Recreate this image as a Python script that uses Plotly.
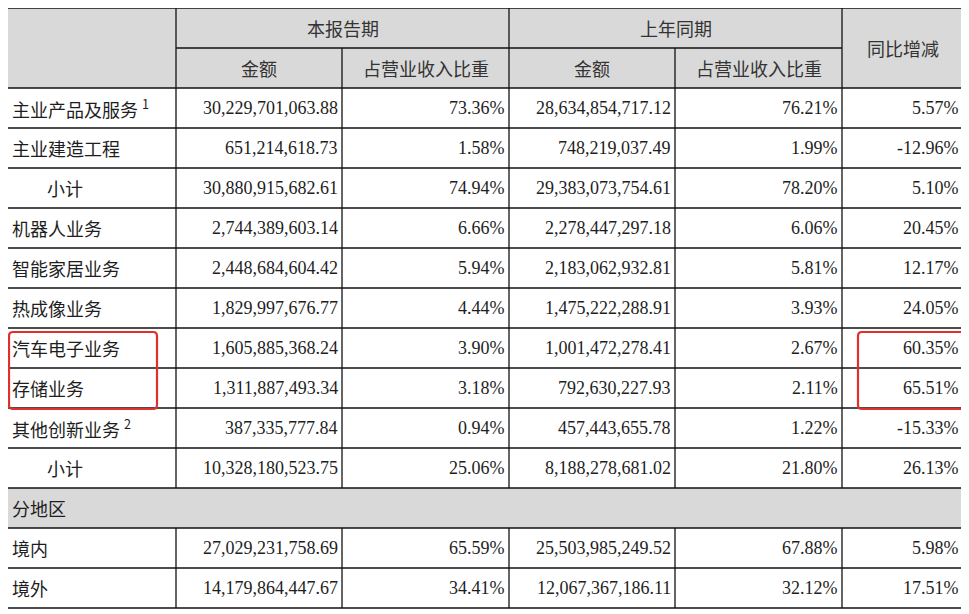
import plotly.graph_objects as go

# ---- data -------------------------------------------------------------
GROUP_HEADERS = ["本报告期", "上年同期"]
SUB_HEADERS = ["金额", "占营业收入比重", "金额", "占营业收入比重"]
YOY_HEADER = "同比增减"

LABELS = ["主业产品及服务 <sup>1</sup>", "主业建造工程", "小计", "机器人业务",
          "智能家居业务", "热成像业务", "汽车电子业务", "存储业务",
          "其他创新业务 <sup>2</sup>", "小计", "分地区", "境内", "境外"]
CUR_AMOUNT = [30229701063.88, 651214618.73, 30880915682.61, 2744389603.14,
              2448684604.42, 1829997676.77, 1605885368.24, 1311887493.34,
              387335777.84, 10328180523.75, None, 27029231758.69,
              14179864447.67]
CUR_SHARE = [73.36, 1.58, 74.94, 6.66, 5.94, 4.44, 3.90, 3.18, 0.94, 25.06,
             None, 65.59, 34.41]
PRE_AMOUNT = [28634854717.12, 748219037.49, 29383073754.61, 2278447297.18,
              2183062932.81, 1475222288.91, 1001472278.41, 792630227.93,
              457443655.78, 8188278681.02, None, 25503985249.52,
              12067367186.11]
PRE_SHARE = [76.21, 1.99, 78.20, 6.06, 5.81, 3.93, 2.67, 2.11, 1.22, 21.80,
             None, 67.88, 32.12]
YOY = [5.57, -12.96, 5.10, 20.45, 12.17, 24.05, 60.35, 65.51, -15.33, 26.13,
       None, 5.98, 17.51]
HIGHLIGHT_ROWS = [6, 7]

# ---- geometry / style ----------------------------------------------
W, H = 969, 614
PAGE_OFF = 8          # default <body> margin of the written page
COLS = [7, 176, 342, 509, 675, 842, 963]
TOP, HDR1, HDR2, ROW_H = 8, 48, 88, 40
INK = "#1e1e1e"
HEAD_INK = "#333333"
LINE = "#111111"
HEAD_FILL = "#d9d9d9"
RED = "#e0302c"
CJK = "Noto Sans CJK SC"
NUM = "Liberation Serif"

row_top = [HDR2 + i * ROW_H for i in range(len(LABELS))]
bottom = row_top[-1] + ROW_H
section = LABELS.index("分地区")

shapes, notes = [], []


def line(x0, y0, x1, y1, w=1.3):
    shapes.append(dict(type="line", x0=x0, y0=y0, x1=x1, y1=y1, xref="x",
                       yref="y", line=dict(color=LINE, width=w), layer="above"))


def text(x, y, s, anchor="center", font=CJK, size=18, color=INK):
    notes.append(dict(x=x, y=y, xref="x", yref="y", text=s, showarrow=False,
                      xanchor=anchor, yanchor="middle",
                      font=dict(family=font, size=size, color=color)))


# header + section fills
shapes.append(dict(type="rect", x0=COLS[0], y0=TOP, x1=COLS[-1], y1=HDR2,
                   fillcolor=HEAD_FILL, line_width=0, layer="below"))
st = row_top[section]
shapes.append(dict(type="rect", x0=COLS[0], y0=st, x1=COLS[-1], y1=st + ROW_H,
                   fillcolor=HEAD_FILL, line_width=0, layer="below"))

# horizontal rules
line(COLS[0], TOP, COLS[-1], TOP)
line(COLS[1], HDR1, COLS[5], HDR1)
for y in row_top + [bottom]:
    line(COLS[0], y, COLS[-1], y)

# vertical rules
line(COLS[0], TOP, COLS[0], bottom)
line(COLS[-1], TOP, COLS[-1], bottom)
for c in (1, 3, 5):
    line(COLS[c], TOP, COLS[c], st)
    line(COLS[c], st + ROW_H, COLS[c], bottom)
for c in (2, 4):
    line(COLS[c], HDR1, COLS[c], st)
    line(COLS[c], st + ROW_H, COLS[c], bottom)

# header text
for i, g in enumerate(GROUP_HEADERS):
    text((COLS[1 + 2 * i] + COLS[3 + 2 * i]) / 2, (TOP + HDR1) / 2, g,
         color=HEAD_INK)
for i, s in enumerate(SUB_HEADERS):
    text((COLS[1 + i] + COLS[2 + i]) / 2, (HDR1 + HDR2) / 2, s, color=HEAD_INK)
text((COLS[5] + COLS[6]) / 2, (TOP + HDR2) / 2, YOY_HEADER, color=HEAD_INK)

# body text
for i, lab in enumerate(LABELS):
    yc = row_top[i] + ROW_H / 2
    indent = 38 if lab == "小计" else 3
    text(COLS[0] + indent, yc, lab, anchor="left")
    if CUR_AMOUNT[i] is None:
        continue
    cells = [f"{CUR_AMOUNT[i]:,.2f}", f"{CUR_SHARE[i]:.2f}%",
             f"{PRE_AMOUNT[i]:,.2f}", f"{PRE_SHARE[i]:.2f}%", f"{YOY[i]:.2f}%"]
    for c, s in enumerate(cells):
        text(COLS[c + 2] - 2, yc, s, anchor="right", font=NUM, size=18)


# red highlight boxes
def rounded(x0, y0, x1, y1, r=4):
    return (f"M{x0 + r},{y0} L{x1 - r},{y0} Q{x1},{y0} {x1},{y0 + r} "
            f"L{x1},{y1 - r} Q{x1},{y1} {x1 - r},{y1} L{x0 + r},{y1} "
            f"Q{x0},{y1} {x0},{y1 - r} L{x0},{y0 + r} Q{x0},{y0} {x0 + r},{y0} Z")


hy0 = row_top[HIGHLIGHT_ROWS[0]] + 4
hy1 = row_top[HIGHLIGHT_ROWS[-1]] + ROW_H + 1
for x0, x1 in ((COLS[0] + 2, COLS[1] - 19), (COLS[5] + 16, COLS[6] + 4)):
    shapes.append(dict(type="path", path=rounded(x0, hy0, x1, hy1), xref="x",
                       yref="y", line=dict(color=RED, width=2.2),
                       layer="above"))

fig = go.Figure()
fig.update_layout(
    width=W, height=H, margin=dict(l=0, r=0, t=0, b=0),
    paper_bgcolor="white", plot_bgcolor="white", showlegend=False,
    xaxis=dict(range=[PAGE_OFF, W + PAGE_OFF], visible=False, fixedrange=True),
    yaxis=dict(range=[H + PAGE_OFF, PAGE_OFF], visible=False,
               fixedrange=True),
    shapes=shapes, annotations=notes,
)
fig.write_html("out.html")
